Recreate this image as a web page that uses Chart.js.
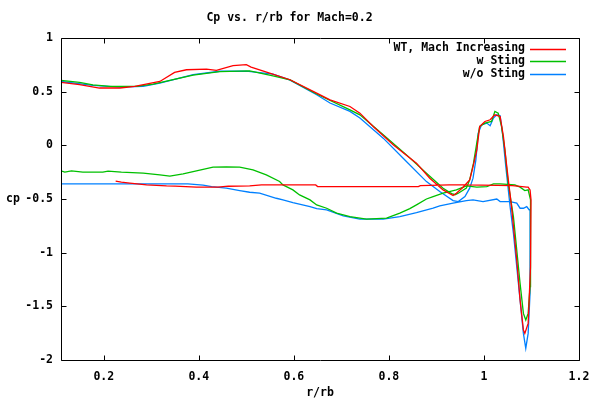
<!DOCTYPE html>
<html>
<head>
<meta charset="utf-8">
<script src="https://cdn.jsdelivr.net/npm/chart.js@4"></script>
<style>
  html, body { margin: 0; padding: 0; background: #fff; }
  #wrap { width: 600px; height: 400px; }
</style>
</head>
<body>
<div id="wrap"><canvas id="c" width="600" height="400"></canvas></div>
<script>
const chartTitle = "Cp vs. r/rb for Mach=0.2";
const xTitle = "r/rb";
const yTitle = "cp";
const seriesNames = ["WT, Mach Increasing", "w Sting", "w/o Sting"];
const seriesColors = ["#ff0000", "#00c000", "#0080ff"];
const xTicks = [0.2, 0.4, 0.6, 0.8, 1.0, 1.2];
const xTickLabels = ["0.2", "0.4", "0.6", "0.8", "1", "1.2"];
const yTicks = [-2, -1.5, -1, -0.5, 0, 0.5, 1];
const yTickLabels = ["-2", "-1.5", "-1", "-0.5", "0", "0.5", "1"];

// WT, Mach Increasing
const redX = [0.11,0.149,0.191,0.234,0.265,0.318,0.349,0.374,0.416,0.437,0.472,0.50,0.51,0.549,0.592,0.648,0.676,0.718,0.739,0.767,0.809,0.858,0.886,0.914,0.935,0.942,0.956,0.970,0.977,0.985,0.991,1.002,1.013,1.023,1.034,1.041,1.048,1.058,1.069,1.076,1.083,1.086,1.093,1.098,1.099,1.097,1.093,
  1.09,1.06,0.963,0.927,0.866,0.862,0.65,0.646,0.532,0.507,0.462,0.44,0.395,0.35,0.332,0.290,0.255,0.237,0.225];
const redY = [0.586,0.565,0.534,0.534,0.549,0.595,0.679,0.704,0.71,0.698,0.742,0.751,0.729,0.673,0.611,0.487,0.424,0.362,0.30,0.175,0.005,-0.166,-0.306,-0.415,-0.468,-0.446,-0.39,-0.322,-0.198,-0.042,0.176,0.222,0.238,0.284,0.269,0.082,-0.198,-0.571,-1.068,-1.441,-1.72,-1.752,-1.659,-1.13,-0.508,-0.415,-0.39,
  -0.39,-0.375,-0.369,-0.369,-0.375,-0.384,-0.384,-0.369,-0.369,-0.378,-0.381,-0.39,-0.39,-0.38,-0.378,-0.369,-0.353,-0.343,-0.334];

// w Sting
const greenX = [0.11,0.149,0.177,0.213,0.269,0.304,0.339,0.388,0.444,0.507,0.556,0.592,0.648,0.718,0.739,0.788,0.837,0.879,0.914,0.932,0.939,0.946,0.963,0.970,0.978,0.986,0.991,1.002,1.016,1.023,1.030,1.037,1.044,1.051,1.062,1.069,1.076,1.083,1.088,1.093,1.097,1.098,1.098,1.093,
  1.086,1.076,1.065,1.034,1.020,1.006,0.985,0.963,0.942,0.927,0.914,0.893,0.879,0.858,0.844,0.823,0.795,0.753,0.718,0.690,0.669,0.648,0.634,0.612,0.598,0.577,0.570,0.542,0.514,0.486,0.458,0.430,0.395,0.367,0.339,0.318,0.283,0.237,0.209,0.198,0.156,0.132,0.118,0.11];
const greenY = [0.605,0.586,0.564,0.549,0.549,0.571,0.605,0.655,0.686,0.693,0.648,0.61,0.478,0.331,0.284,0.098,-0.089,-0.26,-0.40,-0.45,-0.46,-0.446,-0.399,-0.322,-0.166,0.051,0.176,0.207,0.222,0.316,0.30,0.176,-0.042,-0.353,-0.664,-0.975,-1.286,-1.566,-1.628,-1.566,-1.317,-0.819,-0.508,-0.415,
  -0.421,-0.39,-0.369,-0.36,-0.36,-0.384,-0.39,-0.378,-0.415,-0.431,-0.446,-0.477,-0.50,-0.555,-0.59,-0.632,-0.679,-0.688,-0.664,-0.632,-0.586,-0.555,-0.508,-0.462,-0.415,-0.369,-0.337,-0.275,-0.228,-0.203,-0.20,-0.203,-0.238,-0.266,-0.287,-0.275,-0.259,-0.25,-0.24,-0.25,-0.25,-0.238,-0.25,-0.238];

// w/o Sting
const blueX = [0.11,0.177,0.234,0.283,0.318,0.388,0.444,0.50,0.556,0.591,0.648,0.676,0.718,0.739,0.788,0.830,0.879,0.907,0.935,0.946,0.960,0.970,0.977,0.983,0.988,0.995,1.006,1.013,1.020,1.027,1.034,1.039,1.046,1.055,1.062,1.069,1.076,1.083,1.088,1.093,1.097,1.097,
  1.095,1.090,1.083,1.076,1.069,1.055,1.034,1.027,0.998,0.977,0.963,0.935,0.907,0.893,0.858,0.823,0.788,0.739,0.704,0.669,0.648,0.634,0.598,0.577,0.563,0.528,0.507,0.486,0.458,0.427,0.409,0.377,0.11];
const blueY = [0.595,0.558,0.543,0.549,0.58,0.658,0.69,0.692,0.664,0.61,0.471,0.394,0.316,0.254,0.067,-0.12,-0.338,-0.431,-0.515,-0.524,-0.477,-0.399,-0.306,-0.135,0.114,0.191,0.207,0.182,0.254,0.284,0.275,0.114,-0.198,-0.571,-0.819,-1.13,-1.441,-1.752,-1.892,-1.752,-1.379,-0.60,
  -0.60,-0.571,-0.586,-0.586,-0.539,-0.524,-0.524,-0.50,-0.524,-0.508,-0.515,-0.539,-0.564,-0.586,-0.627,-0.664,-0.688,-0.688,-0.658,-0.602,-0.59,-0.571,-0.533,-0.508,-0.493,-0.446,-0.437,-0.421,-0.399,-0.384,-0.371,-0.359,-0.359];

const FONT = "'DejaVu Sans Mono', monospace";
const toPts = (xs, ys) => xs.map((x, i) => ({ x: x, y: ys[i] }));
const seriesX = [redX, greenX, blueX];
const seriesY = [redY, greenY, blueY];

const gnuplotFrame = {
  id: 'gnuplotFrame',
  afterDatasetsDraw(chart) {
    const ctx = chart.ctx;
    const a = chart.chartArea;
    const xs = chart.scales.x, ys = chart.scales.y;
    const L = Math.round(a.left) + 0.5, R = Math.round(a.right) + 0.5;
    const T = Math.round(a.top) + 0.5, B = Math.round(a.bottom) + 0.5;
    ctx.save();
    ctx.strokeStyle = '#000';
    ctx.lineWidth = 1;
    ctx.beginPath();
    ctx.rect(L, T, R - L, B - T);
    const tk = 5;
    xTicks.forEach(v => {
      const p = Math.round(xs.getPixelForValue(v)) + 0.5;
      ctx.moveTo(p, B); ctx.lineTo(p, B - tk);
      ctx.moveTo(p, T); ctx.lineTo(p, T + tk);
    });
    yTicks.forEach(v => {
      const p = Math.round(ys.getPixelForValue(v)) + 0.5;
      ctx.moveTo(L, p); ctx.lineTo(L + tk, p);
      ctx.moveTo(R, p); ctx.lineTo(R - tk, p);
    });
    ctx.stroke();
    // y title (horizontal, as in gnuplot)
    ctx.fillStyle = '#000';
    ctx.font = "bold 11.5px " + FONT;
    ctx.textAlign = 'center';
    ctx.textBaseline = 'middle';
    ctx.fillText(yTitle, 13, (a.top + a.bottom) / 2);
    // legend (inside top right)
    const textRight = 525, lineL = 530, lineR = 566;
    chart.data.datasets.forEach((ds, i) => {
      const yy = 48.5 + i * 12.8;
      ctx.textAlign = 'right';
      ctx.fillStyle = '#000';
      ctx.fillText(ds.label, textRight, yy);
      ctx.strokeStyle = ds.borderColor;
      ctx.lineWidth = 1.3;
      ctx.beginPath();
      ctx.moveTo(lineL, Math.round(yy) + 0.5);
      ctx.lineTo(lineR, Math.round(yy) + 0.5);
      ctx.stroke();
    });
    ctx.restore();
  }
};

new Chart(document.getElementById('c'), {
  type: 'scatter',
  data: {
    datasets: seriesNames.map((name, i) => ({
      label: name,
      data: toPts(seriesX[i], seriesY[i]),
      showLine: true,
      borderColor: seriesColors[i],
      backgroundColor: seriesColors[i],
      borderWidth: 1.3,
      pointRadius: 0,
      tension: 0,
      fill: false
    }))
  },
  options: {
    responsive: false,
    animation: false,
    devicePixelRatio: 1,
    layout: { padding: { left: 0, right: 21, top: 0, bottom: 0 } },
    plugins: {
      legend: { display: false },
      tooltip: { enabled: false },
      title: {
        display: true,
        text: chartTitle,
        color: '#000',
        font: { family: FONT, size: 11.5, weight: 'bold', lineHeight: 1.2 },
        padding: { top: 11, bottom: 13.2 }
      }
    },
    scales: {
      x: {
        type: 'linear',
        min: 0.11,
        max: 1.2,
        grid: { display: false, drawTicks: false },
        border: { display: false },
        afterBuildTicks: s => { s.ticks = xTicks.map(v => ({ value: v })); },
        afterFit: s => { s.height = 40; },
        ticks: {
          autoSkip: false, maxRotation: 0, padding: 10, color: '#000',
          font: { family: FONT, size: 11.5, weight: 'bold' },
          callback: v => xTickLabels[xTicks.indexOf(v)]
        },
        title: {
          display: true, text: xTitle, color: '#000',
          font: { family: FONT, size: 11.5, weight: 'bold', lineHeight: 1.2 },
          padding: { top: 0, bottom: 0 }
        }
      },
      y: {
        type: 'linear',
        min: -2,
        max: 1,
        grid: { display: false, drawTicks: false },
        border: { display: false },
        afterBuildTicks: s => { s.ticks = yTicks.map(v => ({ value: v })); },
        afterFit: s => { s.width = 61; },
        ticks: {
          autoSkip: false, padding: 8, color: '#000',
          font: { family: FONT, size: 11.5, weight: 'bold' },
          callback: v => yTickLabels[yTicks.indexOf(v)]
        }
      }
    }
  },
  plugins: [gnuplotFrame]
});
</script>
</body>
</html>
